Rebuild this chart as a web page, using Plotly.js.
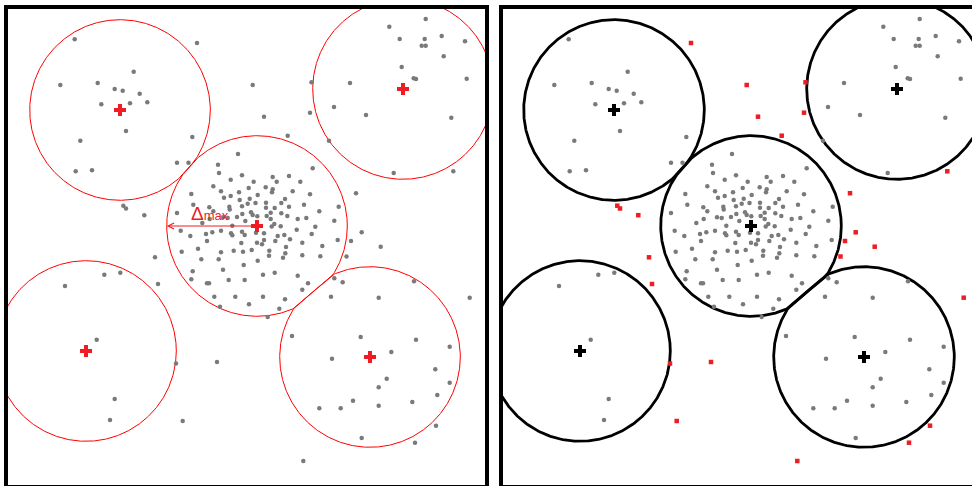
<!DOCTYPE html>
<html><head><meta charset="utf-8">
<script src="https://cdn.plot.ly/plotly-3.0.1.min.js"></script>
<style>html,body{margin:0;padding:0;background:#fff;}#chart{width:972px;height:486px;}</style>
</head><body><div id="chart"></div>
<script>
// gray points that belong to a cluster (inside a circle)
const inlierX = [74.7,133.7,60.3,97.7,114.7,122.7,139.7,101.3,130,147.3,126,80.3,192.3,75.7,92,177,188.5,
 425.7,389.3,399.7,424.7,441.7,465,421.7,425.7,443.7,401.7,413.7,416,466.7,350,334,366,451.3,329,393.7,
 238,218,219,242,230.7,253.7,213.3,248.7,221,191.3,239,230.7,224,257.7,249.7,239.7,255.5,193.3,247.7,242,209.3,229.3,229.7,213.3,177,242.3,251,252.7,223,227.7,237,257.3,209.7,245.3,202.3,232.3,
 312.7,272.7,289,276.7,300.3,265.7,272.7,272,292.7,310,285,281.3,266,304,289,266,274.7,338.7,319.3,270.7,281.3,266.7,287.3,297.7,306.3,270.7,334.3,274.3,271.7,315.3,280.7,
 180.7,190.3,206,212.3,221,231,232.3,242,244.7,256,207,241.3,257,181.7,198,221,233.7,243,251.7,201.3,218.7,257.7,243.7,192.7,223,191.3,228.7,244.7,207,209,214.3,235.3,249,220,
 296.7,264,277.7,284.3,311.7,264,262,275.3,290,302.3,337.7,322.3,286,269.3,269,285.3,283,302.3,320.3,274.7,263,297.7,308,302.3,334.3,342.7,331,263,285,279.3,267.7,
 65,104.3,120.3,96.7,114.7,110,
 414,378.7,292,360.7,416,449.7,332,391.3,435.3,386.7,378.7,449.7,437.3,353,319.3,340.7,378.7,412.3,361.7];
const inlierY = [39.3,71.7,85,83,89,90.7,93.7,104.3,103.3,102.3,131,140.7,137,171.3,170.3,162.7,162.7,
 19,26.7,39,39,36,41.3,45.7,45.7,56.3,67,78.3,79,78.7,83,107,115,117.7,140.7,173,
 154,164.7,173,175.3,179.7,181.7,186.3,188,191.3,194,192.3,196,197.7,195,198.7,200,203,204.7,203.7,206.3,207.3,206.7,209.5,211.3,213,214,212.3,215,217.3,218,217,216.3,219,221,223,225.7,
 168.3,177,176,181.7,181.7,187.3,189.3,192.3,191.3,194.3,199,203,202.7,204.7,206.7,207.7,208,206.7,211.3,212.7,213.3,216,216,219,218,219,220.7,224,226.5,226.7,226.3,
 230.7,236,234,232.3,230.7,233.3,235.3,231.7,235,232.7,241,243,242.7,251.7,248.7,252.3,250.7,251.7,250,259.3,259.3,260.7,265,271.3,269.7,279.3,280,280,283.3,283.3,296.7,296.7,304.3,306.7,
 229.7,233.3,236,235,234,240,244.3,241,239.3,242.7,240,246,247,250.7,255.7,253.3,257.7,255.3,256.3,272.7,274.7,275.7,283.3,289.7,278.3,282.3,296.7,296.7,299.3,308.7,317,
 286,274.7,272.7,339.7,399,420,
 281.3,297.7,336,337,339.7,346.7,358.7,352,369.3,378.7,387.3,382.7,395,400.7,408.3,408.3,405.7,402,438];
// points outside every circle (gray on the left, red on the right)
const outlierX = [197,252.7,264,287.7,311.5,310,453.3,356,361.7,351,380.7,346.5,123.3,126,144.3,155,158,176,217,182.7,469.7,436,415,303.3];
const outlierY = [43,85,116.7,135.7,82.3,112.7,171.3,193.2,232.3,241,246.7,256.5,205.7,208.5,215.2,257.3,284,363.5,362,421,297.7,425.7,442.7,461];
// cluster centres and radius (Δmax)
const centerX = [120, 403, 257, 86, 370];
const centerY = [110, 89, 226, 351, 357];
const radius = [90.3, 90.3, 90.3, 90.3, 90.3];
const labelText = 'Δ<span style="font-size:13px">max</span>';

function circleOutline(i) {
  const xs = [], ys = [];
  const n = 720;
  for (let k = 0; k <= n; k++) {
    const t = 2 * Math.PI * k / n;
    let px = centerX[i] + radius[i] * Math.cos(t);
    let py = centerY[i] + radius[i] * Math.sin(t);
    for (let j = 0; j < centerX.length; j++) {
      if (j === i) continue;
      const dx = px - centerX[j], dy = py - centerY[j];
      const inside = radius[j] * radius[j] - (dx * dx + dy * dy);
      if (inside > 0) {
        const gx = 2 * (centerX[j] - centerX[i]), gy = 2 * (centerY[j] - centerY[i]);
        const g2 = gx * gx + gy * gy;
        px -= inside * gx / g2; py -= inside * gy / g2;
      }
    }
    xs.push(px); ys.push(py);
  }
  return {xs, ys};
}

const RED = '#ee1d23', GRAY = '#7a7a7a';
const traces = [];
const panels = [
  {xa: 'x', ya: 'y', circ: 'red', cw: 1, cross: RED, outColor: GRAY, outSym: 'circle', outSize: 4.5},
  {xa: 'x2', ya: 'y2', circ: 'black', cw: 2.8, cross: 'black', outColor: RED, outSym: 'square', outSize: 4.5}
];
panels.forEach(p => {
  for (let i = 0; i < centerX.length; i++) {
    const c = circleOutline(i);
    traces.push({type: 'scatter', mode: 'lines', x: c.xs, y: c.ys, xaxis: p.xa, yaxis: p.ya,
      line: {color: p.circ, width: p.cw}, hoverinfo: 'skip'});
  }
  traces.push({type: 'scatter', mode: 'markers', x: inlierX, y: inlierY, xaxis: p.xa, yaxis: p.ya,
    marker: {color: GRAY, size: 4.5, symbol: 'circle', line: {width: 0}}, hoverinfo: 'skip'});
  traces.push({type: 'scatter', mode: 'markers', x: outlierX, y: outlierY, xaxis: p.xa, yaxis: p.ya,
    marker: {color: p.outColor, size: p.outSize, symbol: p.outSym, line: {width: 0}}, hoverinfo: 'skip'});
  traces.push({type: 'scatter', mode: 'markers', x: centerX, y: centerY, xaxis: p.xa, yaxis: p.ya,
    marker: {color: p.cross, size: 10, symbol: 'cross', line: {width: 0}}, hoverinfo: 'skip'});
});

const W = 972, H = 486;
const hiddenAxis = {showgrid: false, zeroline: false, showticklabels: false, ticks: '', showline: false, fixedrange: true};
const layout = {
  width: W, height: H, margin: {l: 0, r: 0, t: 0, b: 0}, showlegend: false,
  paper_bgcolor: 'white', plot_bgcolor: 'white',
  xaxis: Object.assign({}, hiddenAxis, {domain: [7 / W, 487 / W], range: [7, 487], anchor: 'y'}),
  yaxis: Object.assign({}, hiddenAxis, {domain: [0, 479 / H], range: [486, 7], anchor: 'x'}),
  xaxis2: Object.assign({}, hiddenAxis, {domain: [501 / W, 1], range: [7, 478], anchor: 'y2'}),
  yaxis2: Object.assign({}, hiddenAxis, {domain: [0, 479 / H], range: [486, 7], anchor: 'x2'}),
  shapes: [
    {type: 'rect', xref: 'paper', yref: 'paper', x0: 6 / W, x1: 487 / W, y0: -1 / H, y1: 479 / H, line: {color: 'black', width: 4}},
    {type: 'rect', xref: 'paper', yref: 'paper', x0: 501 / W, x1: 981 / W, y0: -1 / H, y1: 479 / H, line: {color: 'black', width: 4}}
  ],
  annotations: [
    {xref: 'x', yref: 'y', axref: 'x', ayref: 'y', x: centerX[2] - radius[2], y: centerY[2], ax: centerX[2], ay: centerY[2],
      text: '', showarrow: true, arrowhead: 5, arrowsize: 1.2, arrowwidth: 1, arrowcolor: RED, standoff: 0, startstandoff: 0},
    {xref: 'x', yref: 'y', x: 210, y: 213, text: labelText, showarrow: false,
      font: {family: 'Liberation Sans, Arial, sans-serif', size: 19, color: RED}}
  ]
};
Plotly.newPlot('chart', traces, layout, {staticPlot: true, displayModeBar: false});
</script></body></html>
